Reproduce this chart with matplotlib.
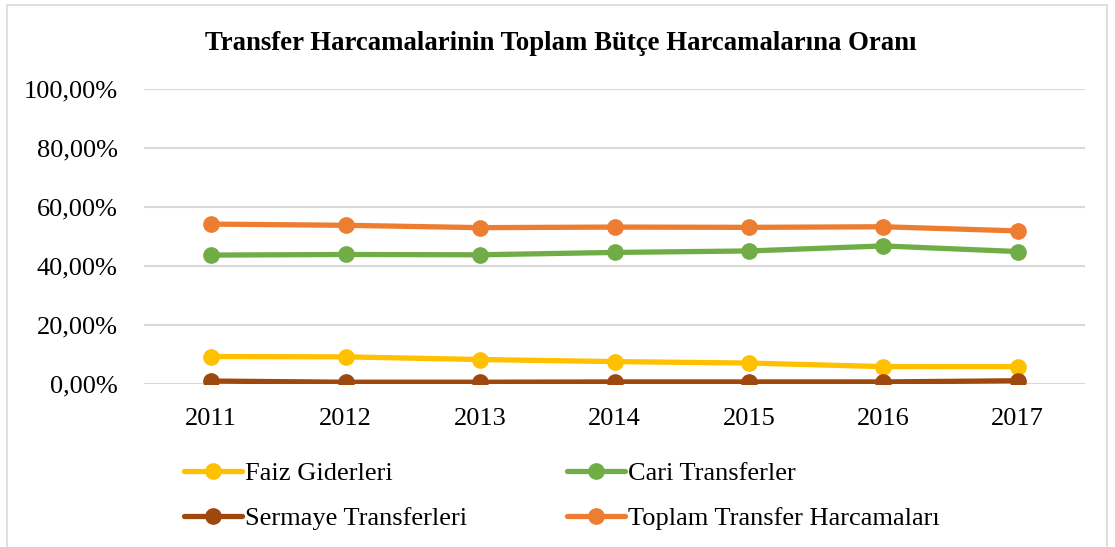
import matplotlib
matplotlib.use('Agg')
import matplotlib.pyplot as plt
import matplotlib.ticker as mtick
from matplotlib.patches import Rectangle

plt.rcParams['font.family'] = ['Liberation Serif', 'DejaVu Serif']

years = ['2011', '2012', '2013', '2014', '2015', '2016', '2017']
faiz = [9.3, 9.2, 8.3, 7.6, 7.1, 5.9, 5.9]
cari = [43.7, 43.9, 43.8, 44.6, 45.1, 46.8, 44.9]
sermaye = [1.0, 0.6, 0.6, 0.7, 0.7, 0.7, 1.1]
toplam = [54.2, 53.8, 53.0, 53.2, 53.1, 53.3, 51.9]

series = [
    ('Faiz Giderleri', faiz, '#FFC000'),
    ('Sermaye Transferleri', sermaye, '#9E480E'),
    ('Cari Transferler', cari, '#70AD47'),
    ('Toplam Transfer Harcamaları', toplam, '#ED7D31'),
]

fig = plt.figure(figsize=(11.15, 5.47), dpi=100)
ax = fig.add_axes([144 / 1115, 1 - 384 / 547, (1085 - 144) / 1115, (384 - 89) / 547])

x = list(range(len(years)))
for name, vals, c in series:
    ax.plot(x, vals, color=c, lw=3.8, marker='o', ms=11, label=name,
            solid_capstyle='round')

ax.set_xlim(-0.5, len(years) - 0.5)
ax.set_ylim(0, 100)
ax.set_yticks(range(0, 101, 20))
ax.yaxis.set_major_formatter(
    mtick.FuncFormatter(lambda v, p: f'{v:.2f}'.replace('.', ',') + '%'))
ax.set_xticks(x)
ax.set_xticklabels(years)
ax.tick_params(length=0, labelsize=19)
ax.tick_params(axis='y', pad=19)
ax.tick_params(axis='x', pad=17)
ax.grid(axis='y', color='#D9D9D9', lw=1.5)
ax.set_axisbelow(True)
for s in ax.spines.values():
    s.set_visible(False)

fig.text(0.503, 1 - 43 / 547, 'Transfer Harcamalarinin Toplam Bütçe Harcamalarına Oranı',
         ha='center', va='center', fontsize=19.3, fontweight='bold')

fig.legend(loc='upper left', bbox_to_anchor=(184 / 1115, 1 - 462 / 547), ncol=2,
           frameon=False, fontsize=19, handlelength=2.2, handletextpad=0.1,
           columnspacing=3.8, labelspacing=0.8, borderaxespad=0, borderpad=0)

fig.patches.append(Rectangle((7 / 1115, -0.01), 1100 / 1115, 1 - 5 / 547 + 0.01,
                             transform=fig.transFigure, fill=False,
                             edgecolor='#D9D9D9', lw=1.2))

fig.savefig('out.png', dpi=100)
